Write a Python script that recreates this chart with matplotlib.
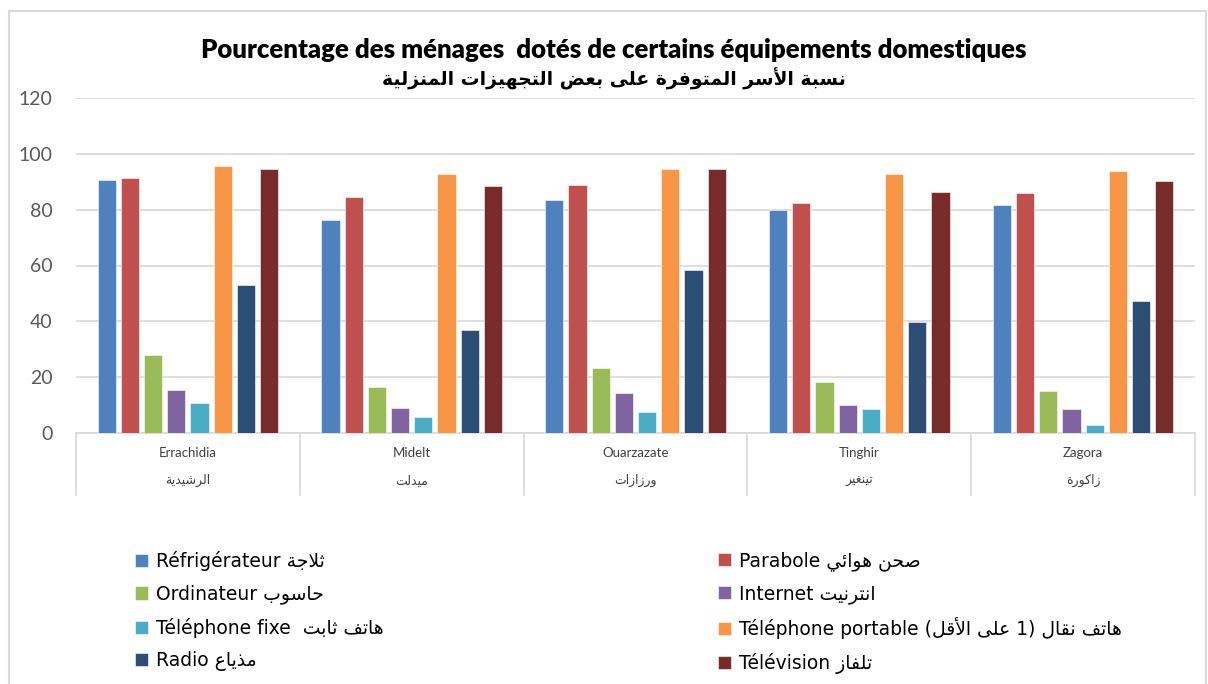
import matplotlib
matplotlib.use("Agg")
import matplotlib.pyplot as plt
import matplotlib.transforms as mtransforms
from matplotlib.patches import Rectangle
import numpy as np

# ---- data ----
provinces_fr = ["Errachidia", "Midelt", "Ouarzazate", "Tinghir", "Zagora"]
provinces_ar = ["الرشيدية", "ميدلت", "ورزازات", "تينغير", "زاكورة"]

refrigerateur = [90.7, 76.2, 83.6, 79.9, 81.8]
parabole = [91.4, 84.4, 88.8, 82.3, 86.0]
ordinateur = [27.8, 16.6, 23.3, 18.4, 15.1]
internet = [15.3, 9.0, 14.5, 9.9, 8.5]
tel_fixe = [10.6, 5.7, 7.7, 8.5, 2.9]
tel_portable = [95.5, 92.8, 94.4, 92.8, 94.0]
radio = [53.0, 37.0, 58.5, 39.6, 47.2]
television = [94.6, 88.4, 94.6, 86.5, 90.1]

series_fr = ["Réfrigérateur", "Parabole", "Ordinateur", "Internet",
             "Téléphone fixe ", "Téléphone portable", "Radio", "Télévision"]
series_ar = ["ثلاجة", "صحن هوائي", "حاسوب", "انترنيت",
             "هاتف ثابت", "هاتف نقال (1 على الأقل)", "مذياع", "تلفاز"]
colors = ["#4F81BD", "#C0504D", "#9BBB59", "#8064A2",
          "#4BACC6", "#F79646", "#2C4D75", "#772C2A"]

title_fr = "Pourcentage des ménages  dotés de certains équipements domestiques"
title_ar = "نسبة الأسر المتوفرة على بعض التجهيزات المنزلية"

yticks = [0, 20, 40, 60, 80, 100, 120]


# ---- minimal arabic shaping (matplotlib does no shaping / bidi) ----
_letters = [("\u0621", 1), ("\u0622", 2), ("\u0623", 2), ("\u0624", 2), ("\u0625", 2),
            ("\u0626", 4), ("\u0627", 2), ("\u0628", 4), ("\u0629", 2), ("\u062a", 4),
            ("\u062b", 4), ("\u062c", 4), ("\u062d", 4), ("\u062e", 4), ("\u062f", 2),
            ("\u0630", 2), ("\u0631", 2), ("\u0632", 2), ("\u0633", 4), ("\u0634", 4),
            ("\u0635", 4), ("\u0636", 4), ("\u0637", 4), ("\u0638", 4), ("\u0639", 4),
            ("\u063a", 4), ("\u0641", 4), ("\u0642", 4), ("\u0643", 4), ("\u0644", 4),
            ("\u0645", 4), ("\u0646", 4), ("\u0647", 4), ("\u0648", 2), ("\u0649", 2),
            ("\u064a", 4)]
FORMS = {}
_code = 0xFE80
for _ch, _n in _letters:
    FORMS[_ch] = [chr(_code + k) for k in range(_n)]
    _code += _n
LAMALEF = {"\u0622": 0xFEF5, "\u0623": 0xFEF7, "\u0625": 0xFEF9, "\u0627": 0xFEFB}


def ar(text):
    chars = list(text)
    n = len(chars)
    res = []
    i = 0
    while i < n:
        c = chars[i]
        prev = chars[i - 1] if i > 0 else ""
        nxt = chars[i + 1] if i + 1 < n else ""
        if c not in FORMS:
            res.append(c)
            i += 1
            continue
        jp = prev in FORMS and len(FORMS[prev]) == 4
        if c == "\u0644" and nxt in LAMALEF:
            res.append(chr(LAMALEF[nxt] + (1 if jp else 0)))
            i += 2
            continue
        f = FORMS[c]
        jn = len(f) == 4 and nxt in FORMS and len(FORMS[nxt]) > 1
        if jp and jn:
            res.append(f[3])
        elif jp and len(f) > 1:
            res.append(f[1])
        elif jn:
            res.append(f[2])
        else:
            res.append(f[0])
        i += 1
    vis = "".join(reversed(res))
    return vis.translate(str.maketrans("()", ")("))


# ---- figure ----
W, H = 1208, 684
fig = plt.figure(figsize=(W / 100, H / 100), dpi=100)
fig.patch.set_facecolor("white")

# chart area border
fig.patches.append(Rectangle((9 / W, -0.05), 1197 / W, 1 - 11 / H + 0.05,
                             transform=fig.transFigure, fill=False,
                             edgecolor="#D9D9D9", linewidth=1.5))

ax = fig.add_axes([76 / W, 1 - 433 / H, 1119 / W, 335 / H])

values = [refrigerateur, parabole, ordinateur, internet,
          tel_fixe, tel_portable, radio, television]
x = np.arange(len(provinces_fr))
pitch = 0.1037
width = 0.0813
bars = []
for j, vals in enumerate(values):
    b = ax.bar(x + (j - 3.5) * pitch, vals, width, color=colors[j],
               edgecolor="white", linewidth=0.4, zorder=3)
    bars.append(b)

ax.set_xlim(-0.5, len(provinces_fr) - 0.5)
ax.set_ylim(0, 120)
ax.set_yticks(yticks)
ax.set_yticklabels([str(v) for v in yticks], fontfamily="Lato",
                   fontsize=14, color="#595959")
ax.tick_params(axis="y", length=0, pad=17)
ax.set_xticks([])
ax.grid(axis="y", color="#D9D9D9", linewidth=1.2, zorder=0)
for s in ["left", "right", "top"]:
    ax.spines[s].set_visible(False)
ax.spines["bottom"].set_color("#D9D9D9")
ax.spines["bottom"].set_linewidth(1.2)

# multi-level category axis
trans = mtransforms.blended_transform_factory(ax.transData, ax.transAxes)
for b in np.arange(-0.5, len(provinces_fr), 1.0):
    ax.plot([b, b], [0, -0.185], transform=trans, color="#D9D9D9",
            linewidth=1.2, clip_on=False)
for i in range(len(provinces_fr)):
    ax.text(i, -0.06, provinces_fr[i], transform=trans, ha="center",
            va="center", fontfamily="Lato", fontsize=9.5, color="#404040")
    ax.text(i, -0.143, ar(provinces_ar[i]), transform=trans, ha="center",
            va="center", fontfamily="DejaVu Sans", fontsize=9, color="#404040")

# titles
fig.text(0.508, 1 - 50 / H, title_fr, ha="center", va="center",
         fontfamily="Lato", fontweight="heavy", fontsize=18.5, color="black")
fig.text(0.508, 1 - 79 / H, ar(title_ar), ha="center", va="center",
         fontfamily="DejaVu Sans", fontweight="bold", fontsize=13.5, color="black")

# legend in two columns (row-major order as in the original)
labels = [f"{series_fr[j]} {ar(series_ar[j])}" for j in range(8)]
handles = [b.patches[0] for b in bars]
leg_kw = dict(frameon=False, borderpad=0, borderaxespad=0, handlelength=0.7,
              handleheight=0.7, handletextpad=0.42, labelspacing=0.72,
              loc="upper left", prop={"family": "DejaVu Sans", "size": 13.5})
left_idx = [0, 2, 4, 6]
right_idx = [1, 3, 5, 7]
fig.legend([handles[k] for k in left_idx], [labels[k] for k in left_idx],
           bbox_to_anchor=(135 / W, 1 - 551 / H), **leg_kw)
fig.legend([handles[k] for k in right_idx], [labels[k] for k in right_idx],
           bbox_to_anchor=(718 / W, 1 - 551 / H), **leg_kw)

fig.savefig("out.png", dpi=100)
